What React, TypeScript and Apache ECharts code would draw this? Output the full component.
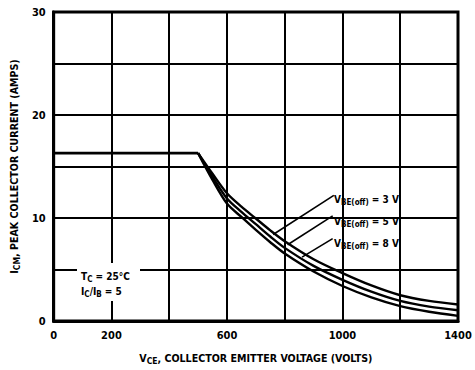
import React, { useEffect, useRef } from "react";
import * as echarts from "echarts";

// ---- data ----
const flatVoltages = [0, 500];
const flatCurrent = [16.3, 16.3];
const voltages = [500, 550, 600, 650, 700, 750, 800, 900, 1000, 1100, 1200, 1300, 1400];
const curveTop = [16.3, 14.3, 12.4, 11.1, 9.95, 8.8, 7.75, 6.0, 4.65, 3.45, 2.5, 1.95, 1.6];
const curveMid = [16.3, 14.0, 11.9, 10.6, 9.4, 8.2, 7.1, 5.35, 4.0, 2.85, 1.95, 1.4, 1.05];
const curveBot = [16.3, 13.7, 11.4, 10.1, 8.85, 7.65, 6.55, 4.8, 3.4, 2.3, 1.45, 0.9, 0.5];
const xLabelValues = [0, 200, 600, 1000, 1400];
const yLabelValues = [0, 10, 20, 30];
// leader lines: [v1, i1, v2, i2]
const leaders = [
  [970, 12.2, 760, 8.4],
  [966, 10.2, 810, 7.4],
  [966, 8.0, 860, 6.2],
];
const vbeLabels = ["3 V", "5 V", "8 V"];

const FF = '"DejaVu Sans Condensed", "Liberation Sans Narrow", "DejaVu Sans", sans-serif';

const rich = {
  m: { fontSize: 10, fontWeight: "bold", fontFamily: FF, lineHeight: 14, color: "#000" },
  s: { fontSize: 8, fontWeight: "bold", fontFamily: FF, verticalAlign: "bottom", color: "#000" },
};
const nameRich = {
  m: { fontSize: 10.6, fontWeight: "bold", fontFamily: FF, lineHeight: 15, color: "#000" },
  s: { fontSize: 8.5, fontWeight: "bold", fontFamily: FF, verticalAlign: "bottom", color: "#000" },
};

export default function App() {
  const ref = useRef<HTMLDivElement>(null);
  useEffect(() => {
    if (!ref.current) return;
    const chart = echarts.init(ref.current, undefined, { renderer: "svg" });
    const mk = (xs: number[], vals: number[]) => xs.map((v, i) => [v, vals[i]]);
    const curveSeries: any[] = [curveTop, curveMid, curveBot].map((vals, idx) => ({
      type: "line",
      data: mk(voltages, vals),
      showSymbol: false,
      smooth: 0.3,
      lineStyle: { color: "#000", width: 2.4 },
      silent: true,
      z: 5,
      ...(idx === 0
        ? {
            markLine: {
              silent: true,
              symbol: ["none", "none"],
              label: { show: false },
              lineStyle: { color: "#000", width: 1.6, type: "solid" },
              data: leaders.map((l) => [{ coord: [l[0], l[1]] }, { coord: [l[2], l[3]] }]),
            },
          }
        : {}),
    }));
    curveSeries.push({
      type: "line",
      data: mk(flatVoltages, flatCurrent),
      showSymbol: false,
      lineStyle: { color: "#000", width: 2.6 },
      silent: true,
      z: 5,
    });
    const labelYs = [199, 221, 243];
    const graphic: any[] = vbeLabels.map((t, i) => ({
      type: "text",
      x: 334,
      y: labelYs[i],
      z: 100,
      style: {
        text: `{m|V}{s|BE(off)}{m| = ${t}}`,
        rich,
        align: "left",
        verticalAlign: "middle",
      },
    }));
    graphic.push({
      type: "rect",
      z: 90,
      shape: { x: 77, y: 263, width: 63, height: 38 },
      style: { fill: "#fff" },
    });
    graphic.push({
      type: "text",
      x: 81,
      y: 276,
      z: 100,
      style: { text: "{m|T}{s|C}{m| = 25°C}", rich, align: "left", verticalAlign: "middle" },
    });
    graphic.push({
      type: "text",
      x: 81,
      y: 291,
      z: 100,
      style: { text: "{m|I}{s|C}{m|/I}{s|B}{m| = 5}", rich, align: "left", verticalAlign: "middle" },
    });

    chart.setOption({
      animation: false,
      backgroundColor: "#fff",
      grid: {
        left: 47,
        right: 17,
        top: 12,
        bottom: 42,
        show: true,
        borderColor: "#000",
        borderWidth: 3,
        backgroundColor: "transparent",
      },
      xAxis: {
        type: "value",
        min: 0,
        max: 1400,
        interval: 200,
        axisLine: { show: true, lineStyle: { color: "#000", width: 3 } },
        axisTick: { show: false },
        splitLine: { show: true, lineStyle: { color: "#000", width: 2 } },
        axisLabel: {
          margin: 9,
          color: "#000",
          fontSize: 11,
          fontWeight: "bold",
          fontFamily: FF,
          formatter: (v: number) => (xLabelValues.includes(v) ? String(v) : ""),
        },
        name: "{m|V}{s|CE}{m|, COLLECTOR EMITTER VOLTAGE (VOLTS)}",
        nameLocation: "middle",
        nameGap: 29,
        nameTextStyle: { rich: nameRich },
      },
      yAxis: {
        type: "value",
        min: 0,
        max: 30,
        interval: 5,
        axisLine: { show: true, lineStyle: { color: "#000", width: 3 } },
        axisTick: { show: false },
        splitLine: { show: true, lineStyle: { color: "#000", width: 2 } },
        axisLabel: {
          margin: 8,
          color: "#000",
          fontSize: 11,
          fontWeight: "bold",
          fontFamily: FF,
          formatter: (v: number) => (yLabelValues.includes(v) ? String(v) : ""),
        },
        name: "{m|I}{s|CM}{m|, PEAK COLLECTOR CURRENT (AMPS)}",
        nameLocation: "middle",
        nameGap: 32,
        nameRotate: 90,
        nameTextStyle: { rich: nameRich },
      },
      series: curveSeries,
      graphic,
    } as any);
    return () => chart.dispose();
  }, []);
  return (
    <div
      ref={ref}
      style={{ position: "fixed", left: 0, top: 0, width: 475, height: 370, background: "#fff" }}
    />
  );
}
